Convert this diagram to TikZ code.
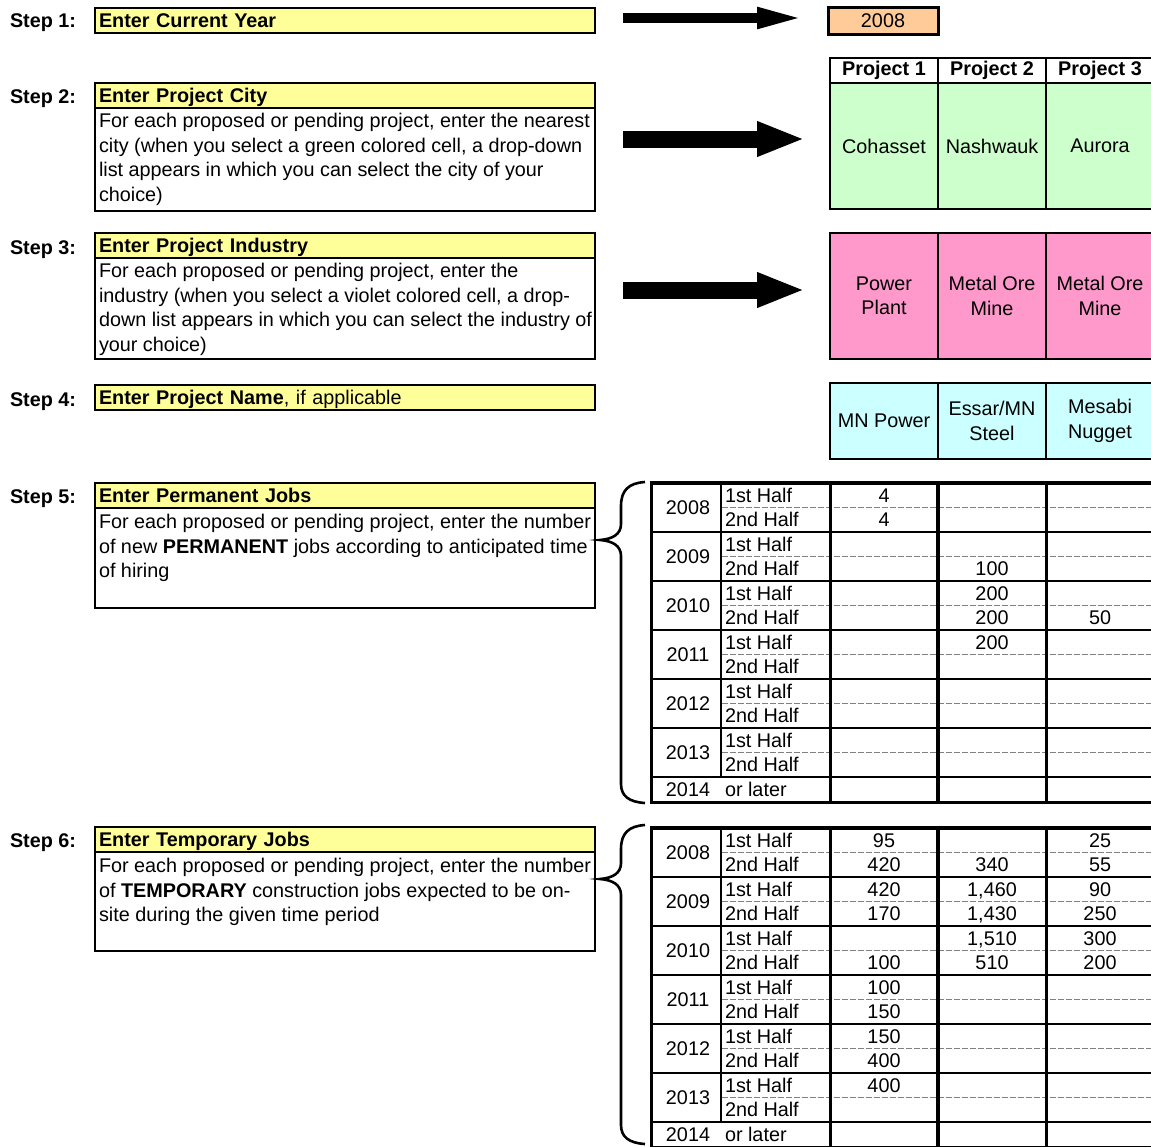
\documentclass[tikz,border=0pt]{standalone}
\usepackage{fontspec}
\setmainfont{Liberation Sans}
\usetikzlibrary{arrows.meta, positioning}
\definecolor{stepyellow}{HTML}{FFFF99}
\definecolor{yearorange}{HTML}{FFCC99}
\definecolor{citygreen}{HTML}{CCFFCC}
\definecolor{industrypink}{HTML}{FF99CC}
\definecolor{namecyan}{HTML}{CCFFFF}
\newcommand{\sheetfont}{\fontsize{19.8}{24.5}\selectfont}
\tikzset{
    x=1pt, y=-1pt, % one unit is one pixel of the sheet, rows counted downwards
    every node/.style={inner sep=0pt, outer sep=0pt, font=\sheetfont},
    steplabel/.style={anchor=base west, font=\sheetfont\bfseries}, % the "Step n:" on the left
    stephead/.style={anchor=north west, draw, line width=1.2pt, fill=stepyellow,
        minimum width=500pt, minimum height=25pt, text width=492pt, align=left,
        text height=14pt, text depth=0pt},
    stepbody/.style={draw, line width=1.2pt, fill=white, minimum width=500pt},
    steptext/.style={anchor=north west, align=left},
    stepframe/.style={line width=2.6pt},
    cell/.style={draw, line width=2.6pt, minimum width=108pt, align=center},
    projhead/.style={cell, minimum height=25pt, font=\sheetfont\bfseries},
    citycell/.style={cell, fill=citygreen, minimum height=126pt},
    industrycell/.style={cell, fill=industrypink, minimum height=126pt},
    namecell/.style={cell, fill=namecyan, minimum height=76pt},
    bigarrow/.style={line width=17pt, -{Triangle[length=48pt, width=32pt]}},
    bracestyle/.style={line width=2.6pt},
    gridline/.style={line width=2pt},
    halfline/.style={gray, line width=1.5pt, dash pattern=on 6pt off 2pt},
    val/.style={anchor=base},
}

\begin{document}
\begin{tikzpicture}
\useasboundingbox (0,0) rectangle (1151,1146);

% step 1: current year
\node[steplabel] (step1) at (10,27) {Step 1:};
\node[stephead] (head1) at (95,8) {\textbf{Enter Current Year}};
\draw[stepframe] (head1.north west) rectangle (head1.south east);
\node[cell, fill=yearorange, minimum width=110pt, minimum height=27pt, line width=3pt] (year) at (883,21) {2008};

% step 2: city
\node[steplabel] (step2) at (10,103) {Step 2:};
\node[stephead] (head2) at (95,83) {\textbf{Enter Project City}};
\node[stepbody, minimum height=103pt, below=0pt of head2] (box2) {};
\node[steptext] (text2) at ([shift={(4,5.5)}]box2.north west) {For each proposed or pending project, enter the nearest\\city (when you select a green colored cell, a drop-down\\list appears in which you can select the city of your\\choice)};
\draw[stepframe] (head2.north west) rectangle (box2.south east);

% step 3: industry
\node[steplabel] (step3) at (10,254) {Step 3:};
\node[stephead] (head3) at (95,233) {\textbf{Enter Project Industry}};
\node[stepbody, minimum height=101pt, below=0pt of head3] (box3) {};
\node[steptext] (text3) at ([shift={(4,5.5)}]box3.north west) {For each proposed or pending project, enter the\\industry (when you select a violet colored cell, a drop-\\down list appears in which you can select the industry of\\your choice)};
\draw[stepframe] (head3.north west) rectangle (box3.south east);

% step 4: name
\node[steplabel] (step4) at (10,406) {Step 4:};
\node[stephead] (head4) at (95,385) {\textbf{Enter Project Name}, if applicable};
\draw[stepframe] (head4.north west) rectangle (head4.south east);

% step 5: permanent jobs
\node[steplabel] (step5) at (10,503) {Step 5:};
\node[stephead] (head5) at (95,483) {\textbf{Enter Permanent Jobs}};
\node[stepbody, minimum height=100pt, below=0pt of head5] (box5) {};
\node[steptext] (text5) at ([shift={(4,6.5)}]box5.north west) {For each proposed or pending project, enter the number\\of new \textbf{PERMANENT} jobs according to anticipated time\\of hiring};
\draw[stepframe] (head5.north west) rectangle (box5.south east);

% step 6: temporary jobs
\node[steplabel] (step6) at (10,847) {Step 6:};
\node[stephead] (head6) at (95,827) {\textbf{Enter Temporary Jobs}};
\node[stepbody, minimum height=99pt, below=0pt of head6] (box6) {};
\node[steptext] (text6) at ([shift={(4,6.5)}]box6.north west) {For each proposed or pending project, enter the number\\of \textbf{TEMPORARY} construction jobs expected to be on-\\site during the given time period};
\draw[stepframe] (head6.north west) rectangle (box6.south east);

% project columns
\node[projhead] (proj1) at (884,70.5) {Project 1};
\node[projhead, right=0pt of proj1] (proj2) {Project 2};
\node[projhead, right=0pt of proj2] (proj3) {Project 3};
\node[citycell, below=0pt of proj1] (city1) {Cohasset};
\node[citycell, right=0pt of city1] (city2) {Nashwauk};
\node[citycell, right=0pt of city2] (city3) {Aurora};
\node[industrycell] (ind1) at (884,296) {Power\\Plant};
\node[industrycell, right=0pt of ind1] (ind2) {Metal Ore\\Mine};
\node[industrycell, right=0pt of ind2] (ind3) {Metal Ore\\Mine};
\node[namecell] (name1) at (884,421) {MN Power};
\node[namecell, right=0pt of name1] (name2) {Essar/MN\\Steel};
\node[namecell, right=0pt of name2] (name3) {Mesabi\\Nugget};

% arrows
\coordinate (a1-from) at (623,18);
\coordinate (a1-to) at (805,18);
\coordinate (a2-from) at (623,139);
\coordinate (a2-to) at (805,139);
\coordinate (a3-from) at (623,290);
\coordinate (a3-to) at (805,290);
\draw[bigarrow, line width=10pt, -{Triangle[length=48pt, width=19pt]}] (a1-from) -- (a1-to);
\draw[bigarrow] (a2-from) -- (a2-to);
\draw[bigarrow] (a3-from) -- (a3-to);

% jobs tables
\foreach \tab/\ty in {perm/483, temp/828} {
  \foreach \yr [count=\k from 0] in {2008,...,2013} {
    \node[val] (\tab-\yr) at (688, \ty+49*\k+31.5) {\yr};
    \node[val, anchor=base west] (\tab-\yr-a) at (725, \ty+49*\k+19.25) {1st Half};
    \node[val, anchor=base west] (\tab-\yr-b) at (725, \ty+49*\k+43.75) {2nd Half};
    \draw[halfline] (722, \ty+49*\k+24.5) -- (1151, \ty+49*\k+24.5);
    \draw[gridline] (651, \ty+49*\k+49) -- (1151, \ty+49*\k+49);
  }
  \node[val] (\tab-2014) at (688, \ty+313.25) {2014};
  \node[val, anchor=base west] (\tab-later) at (725, \ty+313.25) {or later};
  \draw[line width=2pt] (721,\ty) -- (721,\ty+294);
  \draw[line width=3pt] (651,\ty) -- (651,\ty+319) -- (1151,\ty+319);
  \foreach \xx/\lw in {830/3, 938/3.5, 1046/3}
    \draw[line width=\lw pt] (\xx,\ty) -- (\xx,\ty+319);
  \draw[line width=3.5pt] (649.5,\ty) -- (1151,\ty);
}

% permanent jobs
\foreach \rr/\cc/\vv in {0/1/4, 1/1/4, 3/2/100, 4/2/200, 5/2/200, 5/3/50, 6/2/200}
  \node[val] (perm-v\rr-\cc) at (776+108*\cc, 483+24.5*\rr+19.25) {\vv};

% temporary jobs
\foreach \rr/\cc/\vv in {0/1/95, 0/3/25, 1/1/420, 1/2/340, 1/3/55, 2/1/420, 2/2/{1,460}, 2/3/90,
    3/1/170, 3/2/{1,430}, 3/3/250, 4/2/{1,510}, 4/3/300, 5/1/100, 5/2/510, 5/3/200,
    6/1/100, 7/1/150, 8/1/150, 9/1/400, 10/1/400}
  \node[val] (temp-v\rr-\cc) at (776+108*\cc, 828+24.5*\rr+19.25) {\vv};

% braces
\draw[bracestyle] (645,482) .. controls (629,483) and (621,490) .. (621,506)
  -- (621,524) .. controls (621,534) and (613,539) .. (600,540)
  .. controls (613,541) and (621,546) .. (621,556)
  -- (621,784) .. controls (621,796) and (629,802) .. (645,803);
\draw[bracestyle] (645,825) .. controls (629,826) and (621,833) .. (621,849)
  -- (621,863) .. controls (621,873) and (613,878) .. (600,879)
  .. controls (613,880) and (621,885) .. (621,895)
  -- (621,1125) .. controls (621,1137) and (629,1143) .. (645,1144);
\end{tikzpicture}
\end{document}
